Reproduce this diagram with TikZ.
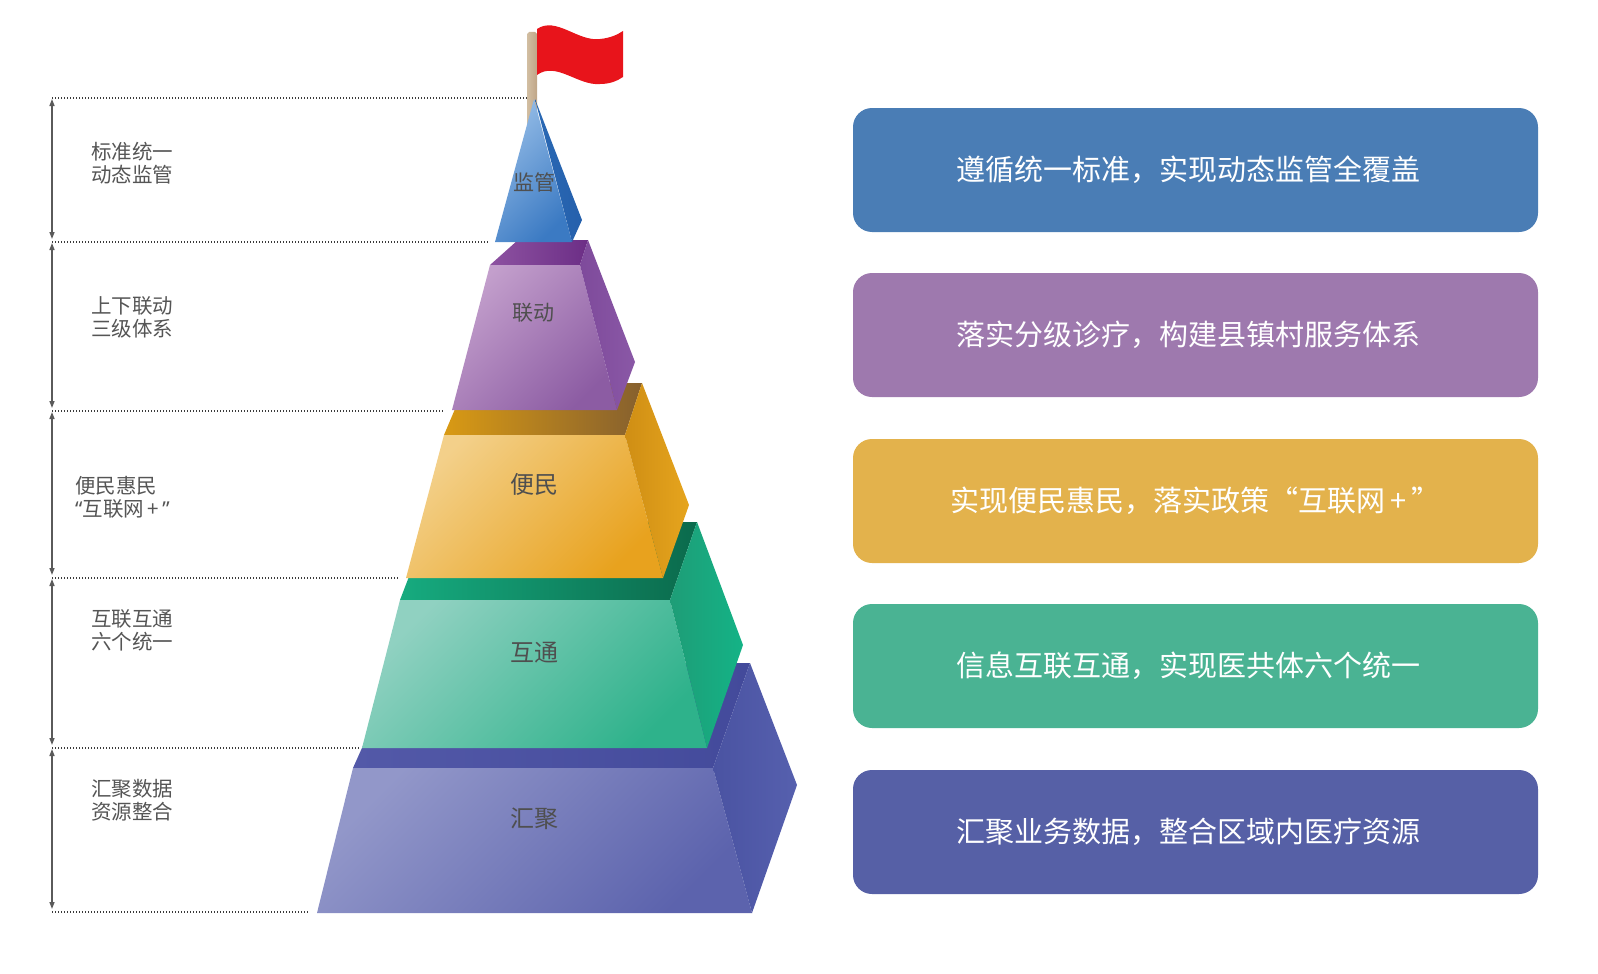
\documentclass[tikz,border=0pt]{standalone}
\usepackage{fontspec}
\newfontfamily\cjk{Noto Sans CJK SC}
\newfontfamily\latinq{Noto Sans}
\usetikzlibrary{arrows.meta}
\definecolor{boxblue}{HTML}{4A7DB5}
\definecolor{boxpurple}{HTML}{9E79AE}
\definecolor{boxgold}{HTML}{E3B24C}
\definecolor{boxgreen}{HTML}{4AB393}
\definecolor{boxindigo}{HTML}{5660A6}
\definecolor{labgray}{HTML}{555555}
\definecolor{pyrtext}{HTML}{4F4F4F}
\definecolor{dotgray}{HTML}{3A3A3A}
\definecolor{arrgray}{HTML}{5A5A5A}
\definecolor{flagred}{HTML}{E8141B}
\definecolor{poletan}{HTML}{BFA587}
\definecolor{polelight}{HTML}{D2BEA2}
% indigo layer
\definecolor{inTopA}{HTML}{5359A8}\definecolor{inTopB}{HTML}{434A9B}
\definecolor{inFrA}{HTML}{9297C9}\definecolor{inFrB}{HTML}{5C63AD}
\definecolor{inSdA}{HTML}{4A53A2}\definecolor{inSdB}{HTML}{5660AE}
% green layer
\definecolor{grTopA}{HTML}{16AB7F}\definecolor{grTopB}{HTML}{0B6A4C}
\definecolor{grFrA}{HTML}{90D1C1}\definecolor{grFrB}{HTML}{2EB28B}
\definecolor{grSdA}{HTML}{1E9D77}\definecolor{grSdB}{HTML}{14B386}
% yellow layer
\definecolor{yeTopA}{HTML}{D99A14}\definecolor{yeTopB}{HTML}{86602E}
\definecolor{yeFrA}{HTML}{F3D08A}\definecolor{yeFrB}{HTML}{E8A21E}
\definecolor{yeSdA}{HTML}{CF8E14}\definecolor{yeSdB}{HTML}{E6A51E}
% purple layer
\definecolor{puTopA}{HTML}{8D52A1}\definecolor{puTopB}{HTML}{6C2E86}
\definecolor{puFrA}{HTML}{C39FCC}\definecolor{puFrB}{HTML}{8C5CA3}
\definecolor{puSdA}{HTML}{7E4A9B}\definecolor{puSdB}{HTML}{8A58A6}
% blue pyramid
\definecolor{blFrA}{HTML}{93BBE6}\definecolor{blFrB}{HTML}{3B7AC3}
\definecolor{blSdA}{HTML}{2A69B4}\definecolor{blSdB}{HTML}{2560AC}
\begin{document}
\begin{tikzpicture}[x=1pt,y=-1pt,
  boxst/.style={rounded corners=19pt, minimum width=685pt, minimum height=124pt, inner sep=0pt, text=white, font=\cjk\fontsize{29}{34}\selectfont},
  lab/.style={anchor=west, align=left, inner sep=0pt, text=labgray, font=\cjk\fontsize{20.5}{23}\selectfont},
  pyrlab/.style={inner sep=0pt, text=pyrtext},
  smalllab/.style={pyrlab, font=\cjk\fontsize{21}{24}\selectfont},
  biglab/.style={pyrlab, font=\cjk\fontsize{24}{28}\selectfont},
  dots/.style={draw=dotgray, line width=1.3pt, dash pattern=on 1.3pt off 1.7pt},
  dimarrow/.style={draw=arrgray, line width=1.4pt, {Triangle[length=7pt,width=5pt]}-{Triangle[length=7pt,width=5pt]}, shorten <=1pt, shorten >=3pt},
  hface/.style 2 args={left color=#1, right color=#2},
  dface/.style 2 args={top color=#1, bottom color=#2, shading angle=45}
]
\useasboundingbox (0,0) rectangle (1598,974);

% ---------- bottom layer (indigo) ----------
\path[hface={inTopA}{inTopB}] (353,768) -- (400,663) -- (750,663) -- (713,768) -- cycle;
\path[dface={inFrA}{inFrB}] (317,913) -- (752,913) -- (713,768) -- (353,768) -- cycle;
\path[hface={inSdA}{inSdB}] (713,768) -- (750,663) -- (797,785) -- (752,913) -- cycle;
\node[biglab] (l5) at (534,819) {汇聚};

% ---------- green layer ----------
\path[hface={grTopA}{grTopB}] (400,600) -- (430,522) -- (697,522) -- (670,600) -- cycle;
\path[dface={grFrA}{grFrB}] (362,748) -- (707,748) -- (670,600) -- (400,600) -- cycle;
\path[hface={grSdA}{grSdB}] (670,600) -- (697,522) -- (743,645) -- (707,748) -- cycle;
\node[biglab] (l4) at (534,653) {互通};

% ---------- yellow layer ----------
\path[hface={yeTopA}{yeTopB}] (444,435) -- (466,383) -- (642,383) -- (625,435) -- cycle;
\path[dface={yeFrA}{yeFrB}] (406,578) -- (663,578) -- (625,435) -- (444,435) -- cycle;
\path[hface={yeSdA}{yeSdB}] (625,435) -- (642,383) -- (689,505) -- (663,578) -- cycle;
\node[biglab] (l3) at (534,484) {便民};

% ---------- purple layer ----------
\path[hface={puTopA}{puTopB}] (490,265) -- (518,240) -- (588,240) -- (580,265) -- cycle;
\path[dface={puFrA}{puFrB}] (452,410) -- (617,410) -- (580,265) -- (490,265) -- cycle;
\path[hface={puSdA}{puSdB}] (580,265) -- (588,240) -- (635,362) -- (617,410) -- cycle;
\node[smalllab] (l2) at (533,313) {联动};

% ---------- flag pole ----------
\path[hface={polelight}{poletan}] (527,34) -- (527,140) -- (537,140) -- (537,34) -- (535,32) -- (529,32) -- cycle;

% ---------- top pyramid (blue) ----------
\path[dface={blFrA}{blFrB}] (534,99) -- (495,242) -- (572,242) -- cycle;
\path[hface={blSdA}{blSdB}] (535,99) -- (582,220) -- (572,242) -- cycle;
\node[smalllab] (l1) at (534,182) {监管};

% ---------- flag ----------
\path[fill=flagred] (537,29) .. controls (556,16) and (578,42) .. (600,39)
  .. controls (610,38) and (617,35) .. (623,31) -- (623,77)
  .. controls (617,81) and (610,84) .. (600,84)
  .. controls (578,86) and (556,61) .. (537,75) -- cycle;

% ---------- dotted guide lines ----------
\coordinate (d0s) at (52,98);  \coordinate (d0e) at (528,98);
\coordinate (d1s) at (52,242); \coordinate (d1e) at (489,242);
\coordinate (d2s) at (52,411); \coordinate (d2e) at (444,411);
\coordinate (d3s) at (52,578); \coordinate (d3e) at (398,578);
\coordinate (d4s) at (52,748); \coordinate (d4e) at (359,748);
\coordinate (d5s) at (52,912); \coordinate (d5e) at (308,912);
\foreach \i in {0,...,5} { \draw[dots] (d\i s) -- (d\i e); }

% ---------- dimension arrows ----------
\draw[dimarrow] (d0s) -- (d1s);
\draw[dimarrow] (d1s) -- (d2s);
\draw[dimarrow] (d2s) -- (d3s);
\draw[dimarrow] (d3s) -- (d4s);
\draw[dimarrow] (d4s) -- (d5s);

% ---------- left labels ----------
\node[lab] (t1) at (91,163) {标准统一\\动态监管};
\node[lab] (t2) at (91,317) {上下联动\\三级体系};
\node[lab] (t3) at (75,497) {便民惠民\\{\latinq “}互联网\,+\,{\latinq ”}};
\node[lab] (t4) at (91,630) {互联互通\\六个统一};
\node[lab] (t5) at (91,800) {汇聚数据\\资源整合};

% ---------- right boxes ----------
\node[boxst, fill=boxblue]   (b1) at (1195.5,170) {\hspace*{-15pt}遵循统一标准，实现动态监管全覆盖};
\node[boxst, fill=boxpurple] (b2) at (1195.5,335) {\hspace*{-15pt}落实分级诊疗，构建县镇村服务体系};
\node[boxst, fill=boxgold]   (b3) at (1195.5,501) {实现便民惠民，落实政策“互联网\,+\,”};
\node[boxst, fill=boxgreen]  (b4) at (1195.5,666) {\hspace*{-15pt}信息互联互通，实现医共体六个统一};
\node[boxst, fill=boxindigo] (b5) at (1195.5,832) {\hspace*{-15pt}汇聚业务数据，整合区域内医疗资源};
\end{tikzpicture}
\end{document}
